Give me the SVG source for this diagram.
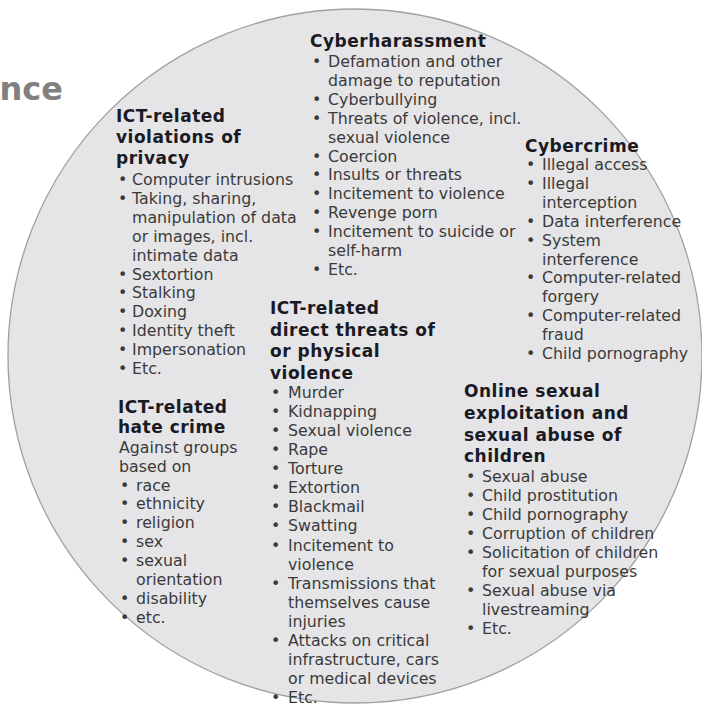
<svg xmlns="http://www.w3.org/2000/svg" width="702" height="709" viewBox="0 0 702 709">
<style>
.h{font-family:"DejaVu Sans",Verdana,sans-serif;font-weight:bold;font-size:17px;letter-spacing:0.5px;fill:#1a1a24}
.b{font-family:"DejaVu Sans",Verdana,sans-serif;font-size:15.8px;fill:#3a3a3a}
.t{font-family:"DejaVu Sans",Verdana,sans-serif;font-weight:bold;font-size:32px;fill:#808080}
</style>
<rect width="702" height="709" fill="#ffffff"/>
<circle cx="355" cy="356" r="347" fill="#e5e5e7" stroke="#a0a0a0" stroke-width="1.3"/>
<text class="t" x="63" y="100" text-anchor="end">nce</text>

<g id="cyberharassment">
<text class="h" x="310" y="46.5">Cyberharassment</text>
<text class="b">
<tspan x="312" y="67">•</tspan><tspan x="312" y="104.8">•</tspan><tspan x="312" y="123.7">•</tspan><tspan x="312" y="161.5">•</tspan><tspan x="312" y="180.4">•</tspan><tspan x="312" y="199.3">•</tspan><tspan x="312" y="218.2">•</tspan><tspan x="312" y="237.1">•</tspan><tspan x="312" y="274.9">•</tspan>
</text>
<text class="b">
<tspan x="328" y="67">Defamation and other</tspan>
<tspan x="328" y="85.9">damage to reputation</tspan>
<tspan x="328" y="104.8">Cyberbullying</tspan>
<tspan x="328" y="123.7">Threats of violence, incl.</tspan>
<tspan x="328" y="142.6">sexual violence</tspan>
<tspan x="328" y="161.5">Coercion</tspan>
<tspan x="328" y="180.4">Insults or threats</tspan>
<tspan x="328" y="199.3">Incitement to violence</tspan>
<tspan x="328" y="218.2">Revenge porn</tspan>
<tspan x="328" y="237.1">Incitement to suicide or</tspan>
<tspan x="328" y="256">self-harm</tspan>
<tspan x="328" y="274.9">Etc.</tspan>
</text>
</g>

<g id="privacy">
<text class="h"><tspan x="116" y="122">ICT-related</tspan><tspan x="116" y="143">violations of</tspan><tspan x="116" y="164">privacy</tspan></text>
<text class="b">
<tspan x="118" y="185">•</tspan><tspan x="118" y="203.9">•</tspan><tspan x="118" y="279.5">•</tspan><tspan x="118" y="298.4">•</tspan><tspan x="118" y="317.3">•</tspan><tspan x="118" y="336.2">•</tspan><tspan x="118" y="355.1">•</tspan><tspan x="118" y="374">•</tspan>
</text>
<text class="b">
<tspan x="132" y="185">Computer intrusions</tspan>
<tspan x="132" y="203.9">Taking, sharing,</tspan>
<tspan x="132" y="222.8">manipulation of data</tspan>
<tspan x="132" y="241.7">or images, incl.</tspan>
<tspan x="132" y="260.6">intimate data</tspan>
<tspan x="132" y="279.5">Sextortion</tspan>
<tspan x="132" y="298.4">Stalking</tspan>
<tspan x="132" y="317.3">Doxing</tspan>
<tspan x="132" y="336.2">Identity theft</tspan>
<tspan x="132" y="355.1">Impersonation</tspan>
<tspan x="132" y="374">Etc.</tspan>
</text>
</g>

<g id="hate-crime">
<text class="h"><tspan x="118" y="412.5">ICT-related</tspan><tspan x="118" y="432.5">hate crime</tspan></text>
<text class="b">
<tspan x="119" y="452.5">Against groups</tspan>
<tspan x="119" y="471.5">based on</tspan>
</text>
<text class="b">
<tspan x="120" y="490.5">•</tspan><tspan x="120" y="509.4">•</tspan><tspan x="120" y="528.3">•</tspan><tspan x="120" y="547.2">•</tspan><tspan x="120" y="566.1">•</tspan><tspan x="120" y="603.9">•</tspan><tspan x="120" y="622.8">•</tspan>
</text>
<text class="b">
<tspan x="136" y="490.5">race</tspan>
<tspan x="136" y="509.4">ethnicity</tspan>
<tspan x="136" y="528.3">religion</tspan>
<tspan x="136" y="547.2">sex</tspan>
<tspan x="136" y="566.1">sexual</tspan>
<tspan x="136" y="585">orientation</tspan>
<tspan x="136" y="603.9">disability</tspan>
<tspan x="136" y="622.8">etc.</tspan>
</text>
</g>

<g id="cybercrime">
<text class="h" x="525" y="151.5">Cybercrime</text>
<text class="b">
<tspan x="526" y="170">•</tspan><tspan x="526" y="188.9">•</tspan><tspan x="526" y="226.7">•</tspan><tspan x="526" y="245.6">•</tspan><tspan x="526" y="283.4">•</tspan><tspan x="526" y="321.2">•</tspan><tspan x="526" y="359">•</tspan>
</text>
<text class="b">
<tspan x="542" y="170">Illegal access</tspan>
<tspan x="542" y="188.9">Illegal</tspan>
<tspan x="542" y="207.8">interception</tspan>
<tspan x="542" y="226.7">Data interference</tspan>
<tspan x="542" y="245.6">System</tspan>
<tspan x="542" y="264.5">interference</tspan>
<tspan x="542" y="283.4">Computer-related</tspan>
<tspan x="542" y="302.3">forgery</tspan>
<tspan x="542" y="321.2">Computer-related</tspan>
<tspan x="542" y="340.1">fraud</tspan>
<tspan x="542" y="359">Child pornography</tspan>
</text>
</g>

<g id="direct-threats">
<text class="h"><tspan x="270" y="314">ICT-related</tspan><tspan x="270" y="335.5">direct threats of</tspan><tspan x="270" y="357">or physical</tspan><tspan x="270" y="378.5">violence</tspan></text>
<text class="b">
<tspan x="271" y="398">•</tspan><tspan x="271" y="417.1">•</tspan><tspan x="271" y="436.1">•</tspan><tspan x="271" y="455.2">•</tspan><tspan x="271" y="474.2">•</tspan><tspan x="271" y="493.3">•</tspan><tspan x="271" y="512.4">•</tspan><tspan x="271" y="531.4">•</tspan><tspan x="271" y="550.5">•</tspan><tspan x="271" y="588.6">•</tspan><tspan x="271" y="645.8">•</tspan><tspan x="271" y="703">•</tspan>
</text>
<text class="b">
<tspan x="288" y="398">Murder</tspan>
<tspan x="288" y="417.1">Kidnapping</tspan>
<tspan x="288" y="436.1">Sexual violence</tspan>
<tspan x="288" y="455.2">Rape</tspan>
<tspan x="288" y="474.2">Torture</tspan>
<tspan x="288" y="493.3">Extortion</tspan>
<tspan x="288" y="512.4">Blackmail</tspan>
<tspan x="288" y="531.4">Swatting</tspan>
<tspan x="288" y="550.5">Incitement to</tspan>
<tspan x="288" y="569.5">violence</tspan>
<tspan x="288" y="588.6">Transmissions that</tspan>
<tspan x="288" y="607.7">themselves cause</tspan>
<tspan x="288" y="626.7">injuries</tspan>
<tspan x="288" y="645.8">Attacks on critical</tspan>
<tspan x="288" y="664.8">infrastructure, cars</tspan>
<tspan x="288" y="683.9">or medical devices</tspan>
<tspan x="288" y="703">Etc.</tspan>
</text>
</g>

<g id="child-exploitation">
<text class="h"><tspan x="464" y="396.5">Online sexual</tspan><tspan x="464" y="418.5">exploitation and</tspan><tspan x="464" y="440.5">sexual abuse of</tspan><tspan x="464" y="462">children</tspan></text>
<text class="b">
<tspan x="466" y="482">•</tspan><tspan x="466" y="501">•</tspan><tspan x="466" y="520">•</tspan><tspan x="466" y="539">•</tspan><tspan x="466" y="558">•</tspan><tspan x="466" y="596">•</tspan><tspan x="466" y="634">•</tspan>
</text>
<text class="b">
<tspan x="482" y="482">Sexual abuse</tspan>
<tspan x="482" y="501">Child prostitution</tspan>
<tspan x="482" y="520">Child pornography</tspan>
<tspan x="482" y="539">Corruption of children</tspan>
<tspan x="482" y="558">Solicitation of children</tspan>
<tspan x="482" y="577">for sexual purposes</tspan>
<tspan x="482" y="596">Sexual abuse via</tspan>
<tspan x="482" y="615">livestreaming</tspan>
<tspan x="482" y="634">Etc.</tspan>
</text>
</g>
</svg>
